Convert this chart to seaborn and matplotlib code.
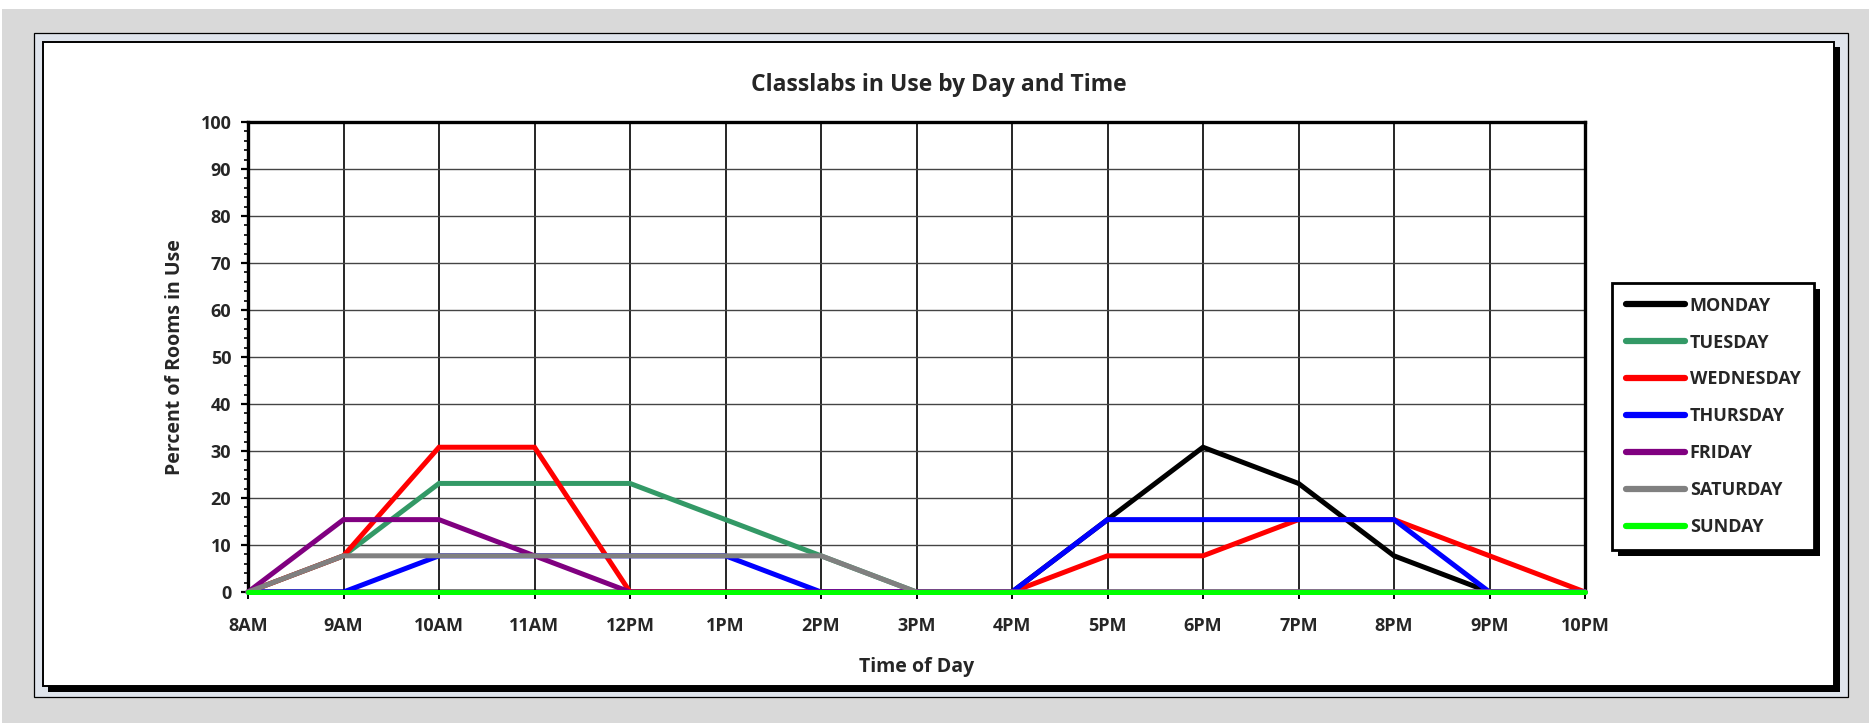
import matplotlib
matplotlib.use("Agg")
import matplotlib.pyplot as plt
from matplotlib.patches import Rectangle
from matplotlib.lines import Line2D
from matplotlib.ticker import MultipleLocator
import seaborn as sns
import pandas as pd

times = ["8AM", "9AM", "10AM", "11AM", "12PM", "1PM", "2PM", "3PM",
         "4PM", "5PM", "6PM", "7PM", "8PM", "9PM", "10PM"]
days = ["MONDAY", "TUESDAY", "WEDNESDAY", "THURSDAY", "FRIDAY", "SATURDAY", "SUNDAY"]

monday = [0, 0, 0, 0, 0, 0, 0, 0, 0, 15.4, 30.8, 23.1, 7.7, 0, 0]
tuesday = [0, 7.7, 23.1, 23.1, 23.1, 15.4, 7.7, 0, 0, 0, 0, 0, 0, 0, 0]
wednesday = [0, 7.7, 30.8, 30.8, 0, 0, 0, 0, 0, 7.7, 7.7, 15.4, 15.4, 7.7, 0]
thursday = [0, 0, 7.7, 7.7, 7.7, 7.7, 0, 0, 0, 15.4, 15.4, 15.4, 15.4, 0, 0]
friday = [0, 15.4, 15.4, 7.7, 0, 0, 0, 0, 0, 0, 0, 0, 0, 0, 0]
saturday = [0, 7.7, 7.7, 7.7, 7.7, 7.7, 7.7, 0, 0, 0, 0, 0, 0, 0, 0]
sunday = [0] * 15

colors = ["#000000", "#339966", "#ff0000", "#0000ff", "#800080", "#808080", "#00ff00"]

series = [monday, tuesday, wednesday, thursday, friday, saturday, sunday]
rows = []
for day, vals in zip(days, series):
    for i, v in enumerate(vals):
        rows.append({"slot": i, "pct": v, "day": day})
df = pd.DataFrame(rows)

sns.set_style("white")
plt.rcParams["font.family"] = ["Open Sans", "DejaVu Sans"]
plt.rcParams["font.weight"] = "bold"

W, H = 1869, 723
fig = plt.figure(figsize=(W / 100, H / 100), dpi=100)
fig.patch.set_facecolor("white")


def px_rect(x0, y0, x1, y1, **kw):
    # rectangle given in image pixel coords (top-left origin)
    r = Rectangle((x0 / W, 1 - y1 / H), (x1 - x0) / W, (y1 - y0) / H,
                  transform=fig.transFigure, **kw)
    fig.add_artist(r)
    return r


# background + frame
px_rect(2, 9, W, H, facecolor="#d9d9d9", edgecolor="none", zorder=-5)
px_rect(34, 33, 1848, 697, facecolor="#dfe4ec", edgecolor="black", linewidth=0.9, zorder=-4)
px_rect(48, 47, 1840, 692, facecolor="black", edgecolor="none", zorder=-3)
px_rect(43, 42, 1834, 686, facecolor="white", edgecolor="black", linewidth=1.4, zorder=-2)

ax = fig.add_axes([248 / W, 1 - 592 / H, (1585 - 248) / W, (592 - 122) / H])
ax.set_facecolor("white")

sns.lineplot(data=df, x="slot", y="pct", hue="day", hue_order=days,
             palette=dict(zip(days, colors)), linewidth=3.6, sort=False,
             legend=False, ax=ax)
for ln in ax.lines:
    ln.set_clip_on(False)
    ln.set_zorder(3)
    ln.set_solid_joinstyle("miter")

ax.set_xlim(0, 14)
ax.set_ylim(0, 100)
ax.set_xticks(range(len(times)))
ax.set_xticklabels(times)
ax.yaxis.set_major_locator(MultipleLocator(10))
ax.yaxis.set_minor_locator(MultipleLocator(2))
ax.grid(axis="x", which="major", color="black", linewidth=1.2)
ax.grid(axis="y", which="major", color="#444444", linewidth=1.0)
ax.set_axisbelow(True)

ax.tick_params(axis="x", which="major", direction="out", length=5, width=1.4,
               bottom=True, pad=13, labelsize=13, color="black")
ax.tick_params(axis="y", which="major", direction="out", length=5, width=1.6,
               left=True, pad=7, labelsize=13, color="black")
ax.tick_params(axis="y", which="minor", direction="out", length=3, width=1.2,
               left=True, color="black")
for lab in ax.get_xticklabels() + ax.get_yticklabels():
    lab.set_fontweight("bold")
for s in ["left", "top", "right"]:
    ax.spines[s].set_linewidth(2.4)
    ax.spines[s].set_color("black")
ax.spines["bottom"].set_linewidth(1.5)
ax.spines["bottom"].set_color("black")

ax.set_xlabel("Time of Day", fontsize=14, fontweight="bold", labelpad=16)
ax.set_ylabel("Percent of Rooms in Use", fontsize=14, fontweight="bold", labelpad=11)
fig.text(939 / W, 1 - 85 / H, "Classlabs in Use by Day and Time", fontsize=16.5,
         fontweight="bold", ha="center", va="center")

handles = [Line2D([0], [0], color=c, linewidth=4.5, solid_capstyle="round") for c in colors]
leg = fig.legend(handles, days, loc="upper left",
                 bbox_to_anchor=(1612 / W, 1 - 283 / H), bbox_transform=fig.transFigure,
                 frameon=True, fancybox=False, edgecolor="black", facecolor="white",
                 framealpha=1, fontsize=13,
                 handlelength=3.3, handletextpad=0.25, labelspacing=1.05,
                 borderpad=0.75, borderaxespad=0)
leg.get_frame().set_linewidth(2.0)
leg.set_zorder(6)
for t in leg.get_texts():
    t.set_fontweight("bold")

fig.canvas.draw()
bb = leg.get_window_extent()
sh = Rectangle((bb.x0 + 6, bb.y0 - 6), bb.width, bb.height, transform=None,
               facecolor="black", edgecolor="none", zorder=5)
fig.add_artist(sh)

fig.savefig("out.png", dpi=100)
